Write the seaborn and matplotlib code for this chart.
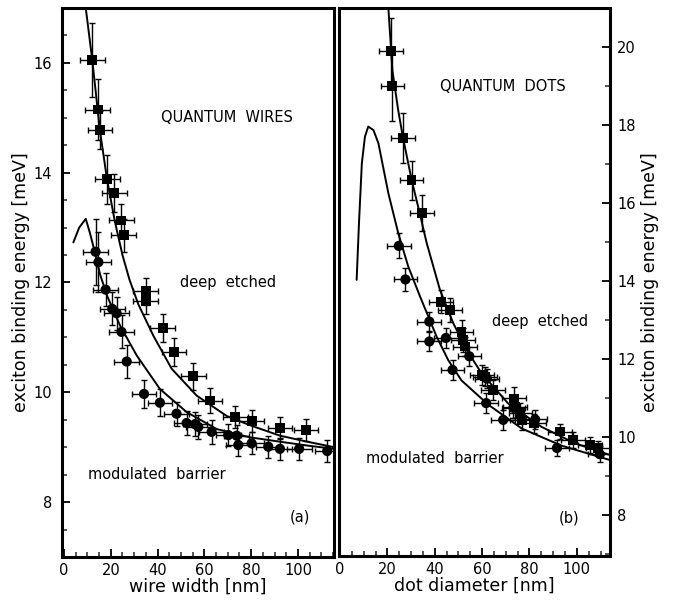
import numpy as np
import pandas as pd
import matplotlib
matplotlib.use("Agg")
import matplotlib.pyplot as plt
import seaborn as sns
from matplotlib.ticker import MultipleLocator

# ---------------- data: panel (a) quantum wires ----------------
wire_de_x = [12.1, 14.4, 15.4, 18.5, 21.5, 24.5, 25.6, 34.9, 34.9, 42.2, 47.0, 55.3, 62.4, 73.2, 80.2, 92.3, 103.4]
wire_de_y = [16.05, 15.15, 14.78, 13.88, 13.63, 13.13, 12.86, 11.84, 11.67, 11.17, 10.73, 10.29, 9.85, 9.55, 9.47, 9.35, 9.32]
wire_de_yerr = [0.67, 0.55, 0.35, 0.45, 0.35, 0.3, 0.3, 0.25, 0.25, 0.25, 0.25, 0.25, 0.22, 0.2, 0.2, 0.2, 0.2]

wire_mb_x = [13.5, 14.7, 17.8, 20.6, 22.5, 24.6, 26.8, 34.2, 41.0, 48.1, 52.4, 56.0, 57.4, 63.1, 70.2, 73.8, 74.5, 80.2, 87.3, 92.3, 100.5, 112.5]
wire_mb_y = [12.56, 12.37, 11.87, 11.52, 11.44, 11.10, 10.56, 9.97, 9.81, 9.61, 9.44, 9.42, 9.37, 9.28, 9.22, 9.21, 9.04, 9.07, 9.01, 8.97, 8.97, 8.93]
wire_mb_yerr = [0.6, 0.55, 0.3, 0.3, 0.3, 0.3, 0.3, 0.25, 0.25, 0.22, 0.22, 0.22, 0.22, 0.22, 0.2, 0.2, 0.2, 0.2, 0.2, 0.2, 0.2, 0.2]

wire_xerr = 5.3

wire_th_de_x = [9.3, 12.1, 15.4, 18.5, 21.8, 25.0, 28.0, 31.8, 38.2, 46.0, 56.7, 69.5, 79.5, 92.3, 104.0, 115.5]
wire_th_de_y = [17.0, 16.05, 14.75, 13.85, 13.1, 12.5, 12.05, 11.6, 11.03, 10.43, 9.94, 9.57, 9.40, 9.21, 9.10, 9.00]
wire_th_mb_x = [4.0, 6.5, 9.3, 11.1, 13.5, 15.4, 18.5, 23.9, 31.1, 41.0, 52.4, 65.3, 79.5, 92.3, 104.0, 115.5]
wire_th_mb_y = [12.73, 13.0, 13.16, 12.9, 12.5, 12.15, 11.75, 11.22, 10.67, 10.06, 9.64, 9.33, 9.18, 9.10, 9.03, 8.97]

# ---------------- data: panel (b) quantum dots ----------------
dot_de_x = [21.4, 22.1, 26.6, 30.2, 34.5, 42.5, 46.5, 51.3, 51.8, 52.7, 59.8, 61.2, 64.6, 73.6, 73.8, 76.2, 76.9, 81.8, 92.8, 98.5, 105.5, 109.0]
dot_de_y = [19.9, 19.0, 17.66, 16.59, 15.74, 13.47, 13.26, 12.70, 12.49, 12.32, 11.59, 11.55, 11.20, 10.99, 10.78, 10.61, 10.44, 10.35, 10.14, 9.92, 9.79, 9.71]
dot_de_yerr = [0.85, 0.9, 0.64, 0.5, 0.47, 0.3, 0.3, 0.3, 0.3, 0.25, 0.25, 0.25, 0.25, 0.3, 0.3, 0.25, 0.25, 0.25, 0.2, 0.2, 0.2, 0.2]

dot_mb_x = [24.8, 27.6, 37.7, 37.7, 44.7, 54.6, 47.5, 62.0, 61.7, 68.9, 73.2, 82.4, 91.6, 109.7]
dot_mb_y = [14.9, 14.04, 12.96, 12.45, 12.54, 12.07, 11.72, 11.50, 10.87, 10.44, 10.75, 10.45, 9.72, 9.56]
dot_mb_yerr = [0.32, 0.3, 0.25, 0.25, 0.25, 0.25, 0.25, 0.25, 0.25, 0.25, 0.25, 0.25, 0.2, 0.2]

dot_xerr = 5.0

dot_th_de_x = [20.4, 22.1, 24.5, 26.5, 30.2, 33.0, 36.6, 42.2, 47.8, 53.5, 59.8, 71.0, 85.1, 99.2, 114.0]
dot_th_de_y = [21.0, 19.4, 18.4, 17.7, 16.6, 15.9, 14.97, 13.77, 12.92, 12.23, 11.63, 10.86, 10.26, 9.84, 9.54]
dot_th_mb_x = [7.0, 8.0, 9.2, 10.5, 11.9, 14.1, 16.2, 20.4, 24.6, 28.8, 33.8, 40.8, 45.7, 51.3, 62.6, 76.7, 93.5, 114.0]
dot_th_mb_y = [14.03, 15.5, 17.02, 17.7, 17.96, 17.87, 17.53, 16.25, 15.22, 14.37, 13.6, 12.57, 11.97, 11.45, 10.83, 10.22, 9.78, 9.41]

ylabel = "exciton binding energy [meV]"

# ---------------- figure ----------------
sns.set_theme(style="white")
plt.rcParams['font.family'] = ['DejaVu Sans']
W, H = 674, 602
fig = plt.figure(figsize=(W / 100, H / 100), dpi=100)
ax1 = fig.add_axes([62 / W, 45 / H, 272 / W, 549 / H])
ax2 = fig.add_axes([339 / W, 46 / H, 271 / W, 548 / H])


def draw(ax, de_x, de_y, de_yerr, mb_x, mb_y, mb_yerr, xerr, thx1, thy1, thx2, thy2):
    for xs, ys, ye in [(de_x, de_y, de_yerr), (mb_x, mb_y, mb_yerr)]:
        ax.errorbar(xs, ys, xerr=xerr, yerr=ye, fmt='none', ecolor='black',
                    elinewidth=1.0, capsize=2.2, capthick=1.0, zorder=2)
    sns.lineplot(x=thx1, y=thy1, sort=False, estimator=None, color='black', lw=1.4, ax=ax, zorder=3)
    sns.lineplot(x=thx2, y=thy2, sort=False, estimator=None, color='black', lw=1.4, ax=ax, zorder=3)
    sns.scatterplot(x=de_x, y=de_y, marker='s', s=50, color='black', edgecolor='none', ax=ax, zorder=4)
    sns.scatterplot(x=mb_x, y=mb_y, marker='o', s=54, color='black', edgecolor='none', ax=ax, zorder=4)


draw(ax1, wire_de_x, wire_de_y, wire_de_yerr, wire_mb_x, wire_mb_y, wire_mb_yerr, wire_xerr,
     wire_th_de_x, wire_th_de_y, wire_th_mb_x, wire_th_mb_y)
draw(ax2, dot_de_x, dot_de_y, dot_de_yerr, dot_mb_x, dot_mb_y, dot_mb_yerr, dot_xerr,
     dot_th_de_x, dot_th_de_y, dot_th_mb_x, dot_th_mb_y)

ax1.set_xlim(-0.85, 115.4)
ax1.set_ylim(7, 17)
ax2.set_xlim(-0.45, 114.0)
ax2.set_ylim(6.95, 21)

for ax in (ax1, ax2):
    for sp in ax.spines.values():
        sp.set_linewidth(2.2)
        sp.set_color('black')
    ax.xaxis.set_major_locator(MultipleLocator(20))
    ax.xaxis.set_minor_locator(MultipleLocator(5))
    ax.tick_params(axis='both', which='major', direction='in', length=6, width=1.3,
                   labelsize=10.5, colors='black')
    ax.tick_params(axis='both', which='minor', direction='in', length=3.5, width=1.1)
    ax.tick_params(axis='x', pad=4)
    ax.set_xticks([0, 20, 40, 60, 80, 100])

ax1.yaxis.set_major_locator(MultipleLocator(2))
ax1.yaxis.set_minor_locator(MultipleLocator(0.5))
ax1.set_yticks([8, 10, 12, 14, 16])
ax1.tick_params(axis='both', which='both', left=True, bottom=True, right=False, top=False)
ax1.tick_params(axis='y', pad=7)

ax2.yaxis.set_major_locator(MultipleLocator(2))
ax2.yaxis.set_minor_locator(MultipleLocator(1))
ax2.set_yticks([8, 10, 12, 14, 16, 18, 20])
ax2.yaxis.tick_right()
ax2.yaxis.set_label_position('right')
ax2.tick_params(axis='both', which='both', left=False, right=True, bottom=True, top=False,
                labelleft=False, labelright=True)
ax2.tick_params(axis='y', pad=5)

lab = dict(fontsize=12.5, color='black')
ax1.set_xlabel("wire width [nm]", **lab)
ax2.set_xlabel("dot diameter [nm]", **lab)
ax1.set_ylabel(ylabel, **lab)
ax2.set_ylabel(ylabel, rotation=90, **lab)
for ax in (ax1, ax2):
    ax.xaxis.label.set_va('center')
    ax.xaxis.set_label_coords(0.5, -30 / 549)
ax1.yaxis.label.set_va('center')
ax1.yaxis.set_label_coords(-41 / 272, 0.5)
ax2.yaxis.label.set_va('center')
ax2.yaxis.set_label_coords(1 + 40 / 271, 0.5)

txt = dict(fontsize=10.5, color='black', ha='center', va='center')
ax1.text(69.5, 15.0, "QUANTUM  WIRES", **txt)
ax1.text(70.0, 12.0, "deep  etched", **txt)
ax1.text(39.5, 8.51, "modulated  barrier", **txt)
ax1.text(100.9, 7.73, "(a)", **txt)
ax2.text(68.8, 19.0, "QUANTUM  DOTS", **txt)
ax2.text(84.4, 12.97, "deep  etched", **txt)
ax2.text(40.1, 9.45, "modulated  barrier", **txt)
ax2.text(96.6, 7.92, "(b)", **txt)

fig.savefig("out.png", dpi=100)
